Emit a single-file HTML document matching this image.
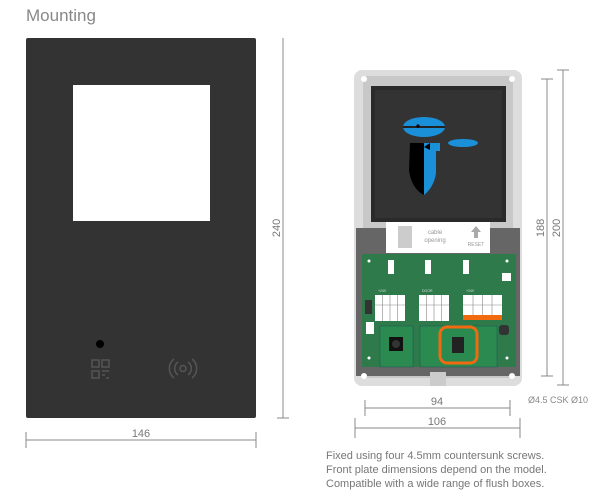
<!DOCTYPE html><html><head><style>
body{margin:0;width:600px;height:496px;background:#fff;position:relative;overflow:hidden;font-family:"Liberation Sans",sans-serif}
.t{position:absolute;color:#777;font-size:11px}
</style></head><body>
<div class="t" style="left:26px;top:6px;font-size:17px;color:#888">Mounting</div>
<svg width="600" height="496" style="position:absolute;left:0;top:0" font-family="Liberation Sans, sans-serif">
<rect x="26" y="38" width="230" height="380" rx="2" fill="#333"/>
<rect x="73" y="85" width="137" height="136" fill="#fff"/>
<circle cx="100" cy="344" r="4" fill="#000"/>
<g fill="none" stroke="#555" stroke-width="1.5">
<rect x="92" y="360" width="7" height="7"/><rect x="102" y="360" width="7" height="7"/><rect x="92" y="371" width="7" height="7"/>
<path d="M102 371h7M102 375h3M106 378h3"/>
<path d="M178 362a8 8 0 0 0 0 13M174 359a12 12 0 0 0 0 19M188 362a8 8 0 0 1 0 13M192 359a12 12 0 0 1 0 19"/>
<circle cx="183" cy="368.5" r="3"/>
</g>
<g stroke="#888" stroke-width="1" fill="none">
<path d="M283 38v380M277 418h12M26 432v16M256 432v16M26 440h230"/>
<path d="M563 70v315M557 70h12M557 385h12M547 79v297M541 79h12M541 376h12"/>
<path d="M365 400v16M510 400v16M365 408h145M355 418v20M520 418v20M355 428h165"/>
</g>
<text x="0" y="0" transform="translate(280,228) rotate(-90)" fill="#777" font-size="11" text-anchor="middle">240</text>
<text x="141" y="437" fill="#777" font-size="11" text-anchor="middle">146</text>
<text x="0" y="0" transform="translate(544,228) rotate(-90)" fill="#777" font-size="11" text-anchor="middle">188</text>
<text x="0" y="0" transform="translate(560,228) rotate(-90)" fill="#777" font-size="11" text-anchor="middle">200</text>
<text x="437" y="405" fill="#777" font-size="11" text-anchor="middle">94</text>
<text x="437" y="425" fill="#777" font-size="11" text-anchor="middle">106</text>
<text x="528" y="403" fill="#888" font-size="9">Ø4.5 CSK Ø10</text>
<rect x="354" y="70" width="168" height="316" rx="8" fill="#ddd"/>
<rect x="363" y="76" width="150" height="302" rx="4" fill="#c8c8c8"/>
<rect x="356" y="228" width="164" height="148" fill="#666"/>
<rect x="430" y="372" width="16" height="14" fill="#ccc"/>
<circle cx="364" cy="79" r="3" fill="#fff"/><circle cx="512" cy="79" r="3" fill="#fff"/>
<circle cx="364" cy="376" r="3" fill="#fff"/><circle cx="512" cy="376" r="3" fill="#fff"/>
<rect x="371" y="86" width="135" height="136" fill="#2a2a2a"/>
<rect x="375" y="90" width="127" height="128" fill="#333"/>
<ellipse cx="424" cy="127" rx="21" ry="10" fill="#1a90d8"/>
<rect x="403" y="126" width="42" height="2" fill="#222"/>
<circle cx="418" cy="126" r="1.6" fill="#000"/>
<ellipse cx="463" cy="143" rx="15" ry="4" fill="#1a90d8"/>
<path d="M410 143h14v52q-12-6-15-24z" fill="#000"/>
<path d="M424 143h16v8h-4v22q-2 14-12 22z" fill="#1a90d8"/>
<path d="M418 143l6 4 6-4v7l-6-3-6 3z" fill="#000"/>
<rect x="386" y="222" width="104" height="31" fill="#fff"/>
<rect x="398" y="226" width="14" height="22" fill="#ccc"/>
<text x="435" y="234" fill="#999" font-size="6" text-anchor="middle">cable</text>
<text x="435" y="242" fill="#999" font-size="6" text-anchor="middle">opening</text>
<path d="M476 226l-5 6h3v6h4v-6h3z" fill="#aaa"/>
<text x="476" y="246" fill="#999" font-size="5" text-anchor="middle">RESET</text>
<rect x="362" y="254" width="154" height="113" fill="#2e7a4a"/>
<g fill="#fff"><circle cx="369" cy="261" r="1.5"/><circle cx="507" cy="261" r="1.5"/><circle cx="369" cy="358" r="1.5"/><circle cx="507" cy="358" r="1.5"/>
<rect x="502" y="273" width="9" height="8"/><rect x="366" y="322" width="8" height="12"/><rect x="427" y="331" width="7" height="13"/>
<rect x="375" y="295" width="30" height="26"/><rect x="419" y="295" width="30" height="26"/><rect x="463" y="295" width="39" height="21"/>
<rect x="388" y="260" width="6" height="14"/><rect x="425" y="260" width="6" height="14"/><rect x="463" y="260" width="6" height="14"/></g>
<g stroke="#888" stroke-width=".6" fill="none">
<path d="M382.5 295v26M390 295v26M397.5 295v26M426.5 295v26M434 295v26M441.5 295v26M473 295v21M482.5 295v21M492 295v21"/>
<path d="M375 305h30M419 305h30M463 305h39"/>
</g>
<g fill="#ddd" font-size="3.5"><text x="378" y="292">+24V</text><text x="422" y="292">DOOR</text><text x="466" y="292">+24V</text></g>
<rect x="463" y="315" width="39" height="5" fill="#f26a10"/>
<rect x="365" y="300" width="7" height="14" fill="#333"/>
<rect x="380" y="326" width="33" height="41" fill="#2a8a50" stroke="#255" stroke-width=".5"/>
<rect x="420" y="326" width="77" height="41" fill="#2a8a50" stroke="#255" stroke-width=".5"/>
<rect x="389" y="337" width="14" height="14" fill="#111"/><circle cx="396" cy="344" r="4" fill="#333"/>
<rect x="440" y="327" width="37" height="36" rx="7" fill="none" stroke="#f26a10" stroke-width="3"/>
<rect x="452" y="337" width="12" height="16" fill="#222"/>
<rect x="499" y="325" width="10" height="10" rx="3" fill="#333"/>
</svg>
<div class="t" style="left:326px;top:450px">Fixed using four 4.5mm countersunk screws.</div>
<div class="t" style="left:326px;top:464px">Front plate dimensions depend on the model.</div>
<div class="t" style="left:326px;top:478px">Compatible with a wide range of flush boxes.</div>
</body></html>
